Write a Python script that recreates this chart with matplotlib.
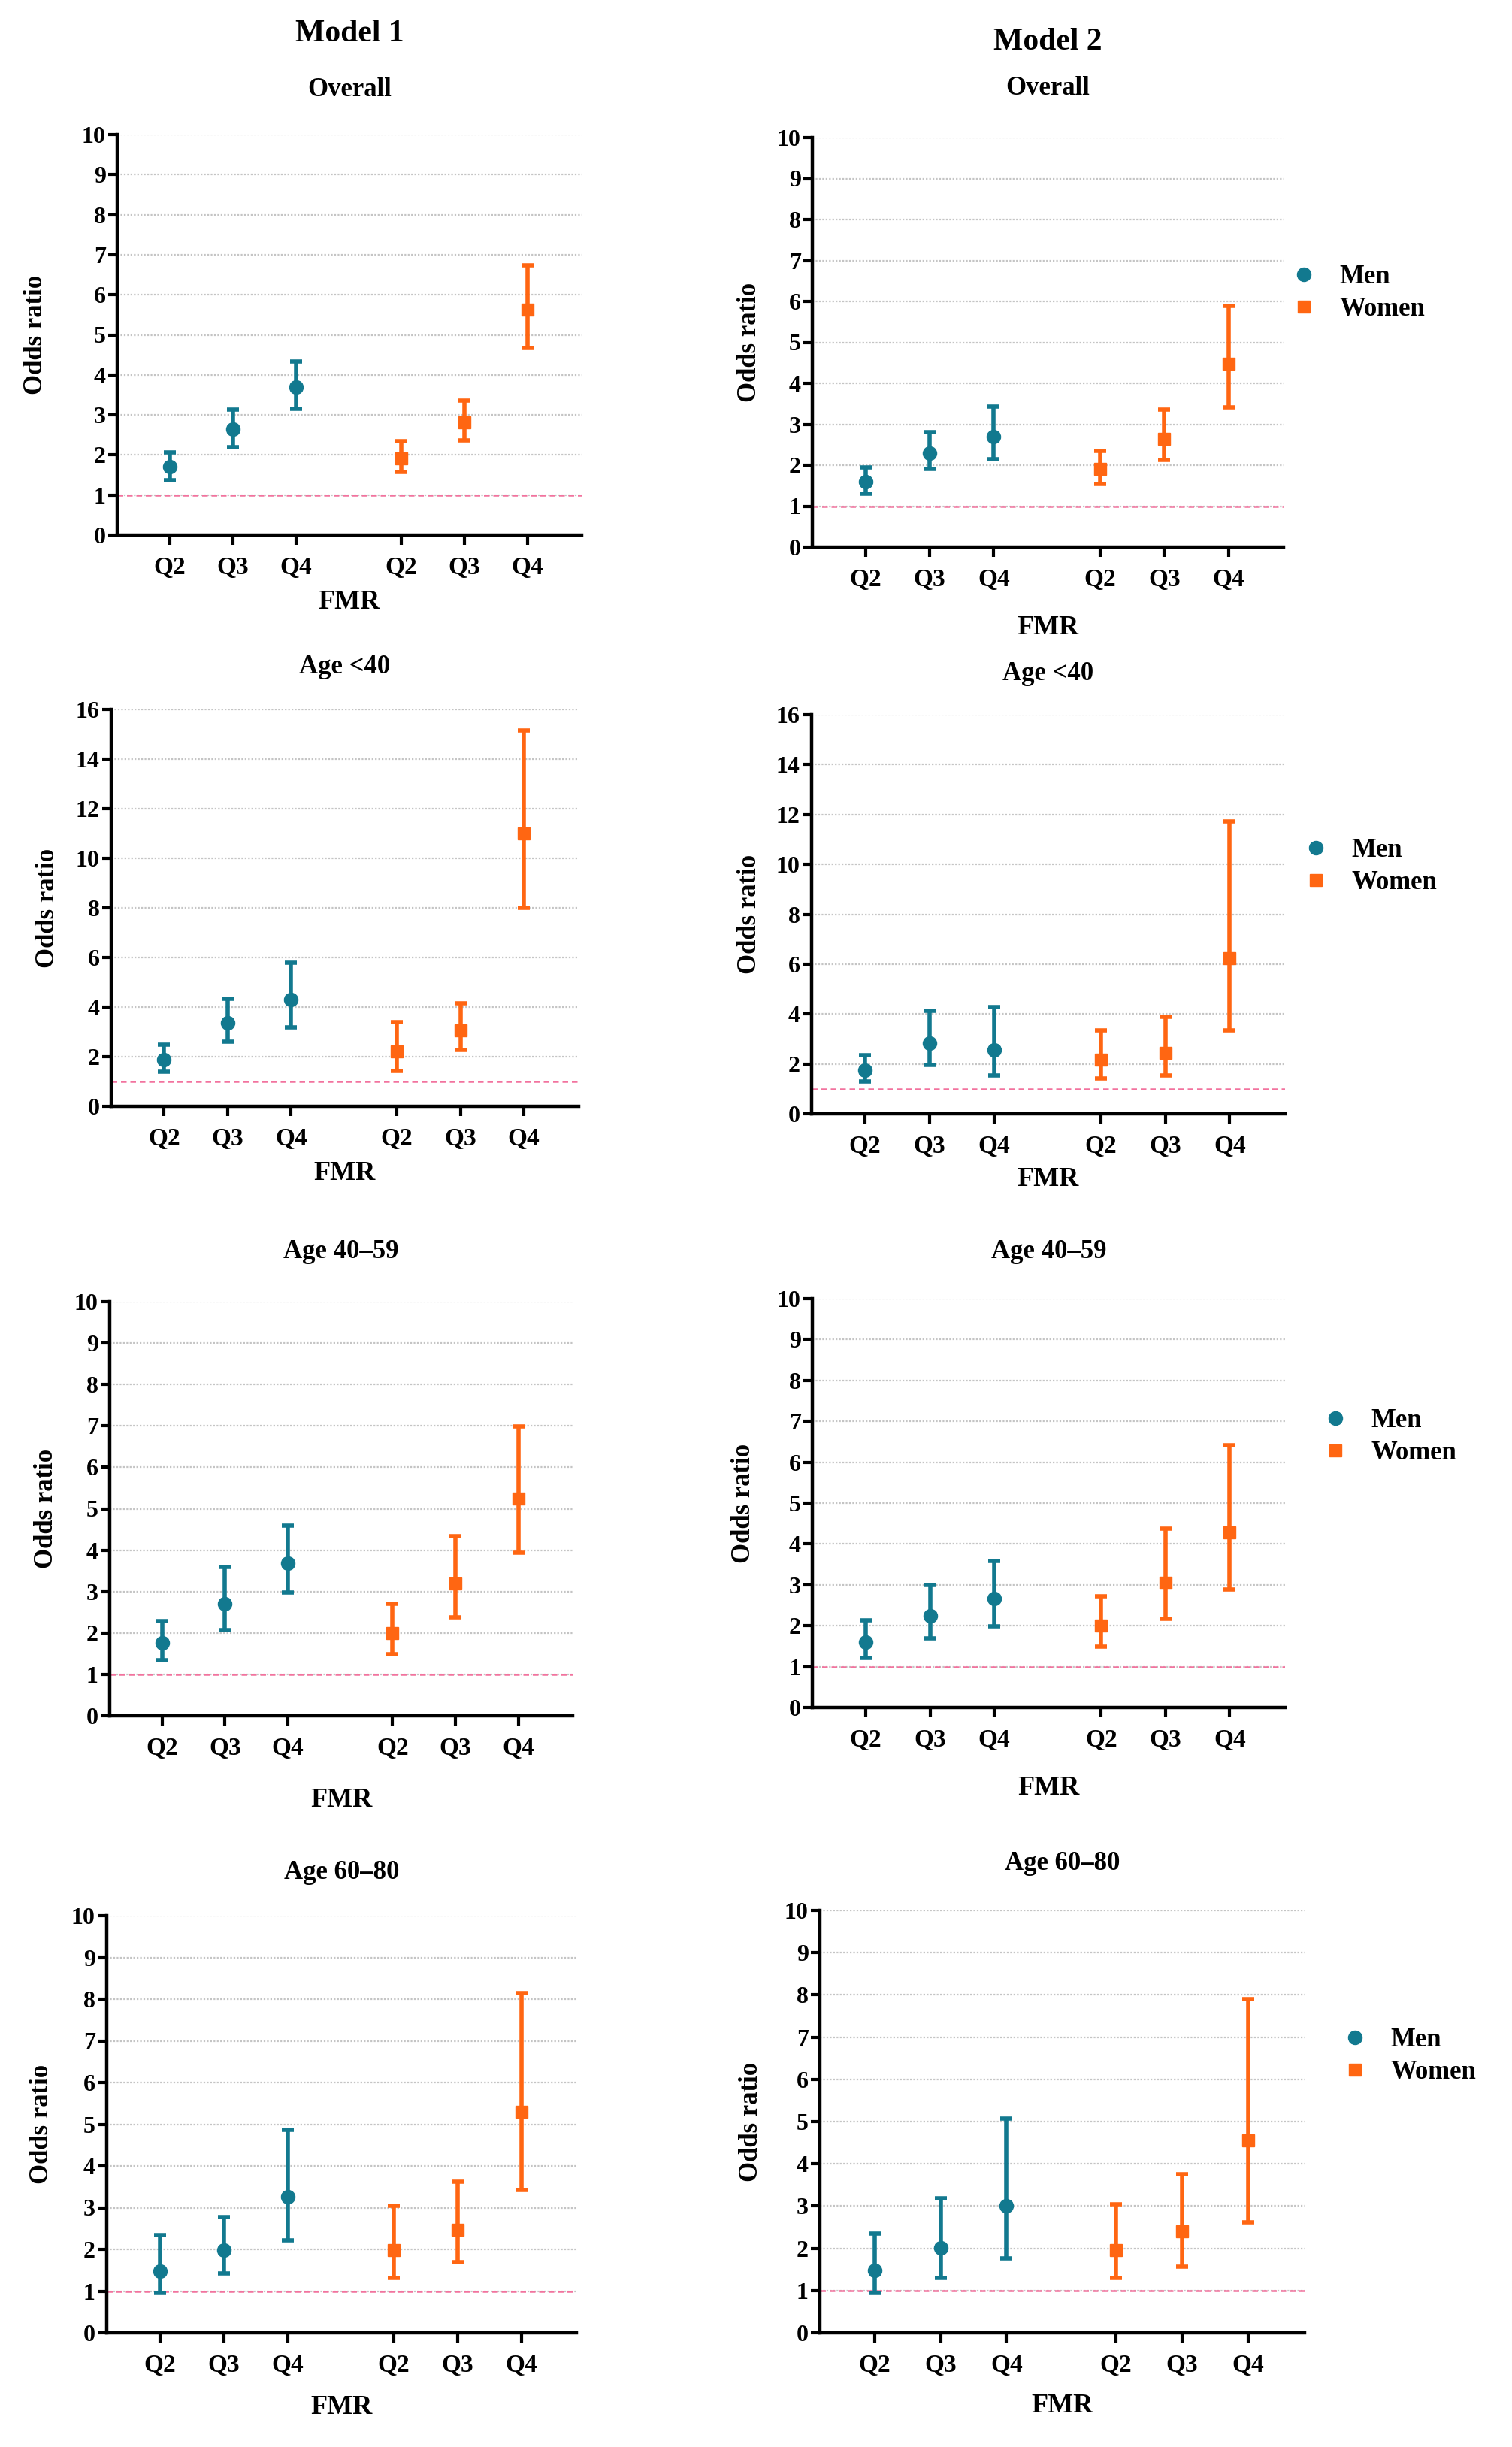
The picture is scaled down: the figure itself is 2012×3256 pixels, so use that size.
import matplotlib
matplotlib.use('Agg')
import matplotlib.pyplot as plt
from matplotlib.lines import Line2D
import numpy as np

# Panel titles and x categories
subgroups = ['Overall', 'Age <40', 'Age 40\u201359', 'Age 60\u201380']
quartiles = ['Q2', 'Q3', 'Q4']
y_max = [10, 16, 10, 10]
y_step = [1, 2, 1, 1]

# Model 1: odds ratio, lower and upper 95% CI, one row per subgroup
m1_men_or = [[1.70, 2.65, 3.70], [1.87, 3.35, 4.30], [1.76, 2.71, 3.69], [1.47, 1.98, 3.27]]
m1_men_lo = [[1.37, 2.20, 3.15], [1.40, 2.60, 3.18], [1.35, 2.07, 2.97], [0.95, 1.43, 2.21]]
m1_men_hi = [[2.06, 3.14, 4.34], [2.48, 4.34, 5.78], [2.28, 3.60, 4.59], [2.35, 2.77, 4.86]]
m1_women_or = [[1.92, 2.82, 5.62], [2.20, 3.07, 11.0], [2.00, 3.20, 5.24], [1.98, 2.47, 5.29]]
m1_women_lo = [[1.57, 2.37, 4.67], [1.43, 2.28, 8.00], [1.48, 2.37, 3.93], [1.31, 1.69, 3.42]]
m1_women_hi = [[2.35, 3.35, 6.74], [3.40, 4.15, 15.15], [2.70, 4.33, 6.98], [3.04, 3.62, 8.14]]

# Model 2
m2_men_or = [[1.60, 2.30, 2.70], [1.75, 2.83, 2.57], [1.60, 2.25, 2.67], [1.48, 2.01, 3.00]]
m2_men_lo = [[1.30, 1.90, 2.15], [1.29, 1.97, 1.55], [1.22, 1.70, 1.99], [0.94, 1.30, 1.77]]
m2_men_hi = [[1.95, 2.80, 3.44], [2.35, 4.12, 4.29], [2.13, 3.00, 3.59], [2.34, 3.18, 5.07]]
m2_women_or = [[1.91, 2.65, 4.47], [2.18, 2.45, 6.25], [2.00, 3.06, 4.28], [1.96, 2.41, 4.55]]
m2_women_lo = [[1.55, 2.12, 3.41], [1.43, 1.55, 3.33], [1.49, 2.17, 2.88], [1.30, 1.56, 2.62]]
m2_women_hi = [[2.34, 3.36, 5.89], [3.33, 3.90, 11.72], [2.72, 4.37, 6.42], [3.04, 3.75, 7.90]]

TEAL = '#12798f'
ORANGE = '#ff6612'
PINK = '#f2739e'

W, H = 2012, 3256


def fx(px):
    return px / W


def fy(py):
    return 1 - py / H


def draw_panel(fig, rect, title, title_y, fmr_y, ylab_x, ymax, ystep,
               men, women, legend_at=None):
    left, right, top, bottom = rect
    ax = fig.add_axes([fx(left), fy(bottom), fx(right - left), (bottom - top) / H])

    men_x = np.array([1.0, 2.0, 3.0])
    women_x = men_x + 3.66

    ax.set_xlim(0.17, 7.52)
    ax.set_ylim(0, ymax)
    yt = np.arange(0, ymax + 0.01, ystep)
    ax.set_yticks(yt)
    ax.set_yticklabels([f'{int(v)}' for v in yt])
    for v in yt[1:]:
        ax.axhline(v, color='#c4c4c4', lw=1.6, ls=(0, (1, 1)), zorder=1)
    ax.axhline(1, color=PINK, lw=1.8, ls=(0, (3, 2)), zorder=2)

    for xs, (orv, lo, hi), col, mk in [(men_x, men, TEAL, 'o'),
                                       (women_x, women, ORANGE, 's')]:
        orv = np.array(orv)
        err = [orv - np.array(lo), np.array(hi) - orv]
        ax.errorbar(xs, orv, yerr=err, fmt=mk, color=col, ecolor=col,
                    elinewidth=4, capsize=6, capthick=4, ms=13 if mk == 'o' else 12,
                    zorder=3)

    ax.set_xticks(np.concatenate([men_x, women_x]))
    ax.set_xticklabels(quartiles + quartiles)

    for s in ['top', 'right']:
        ax.spines[s].set_visible(False)
    for s in ['left', 'bottom']:
        ax.spines[s].set_linewidth(3.2)
    ax.tick_params(axis='y', length=9, width=3, pad=2, labelsize=23)
    ax.tick_params(axis='x', length=9, width=3, pad=11, labelsize=24)
    for lab in ax.get_xticklabels() + ax.get_yticklabels():
        lab.set_fontweight('bold')

    cx = fx((left + right) / 2)
    fig.text(cx, fy(title_y), title, ha='center', va='center',
             fontsize=25, fontweight='bold')
    fig.text(cx, fy(fmr_y), 'FMR', ha='center', va='center',
             fontsize=26, fontweight='bold')
    fig.text(fx(ylab_x), fy((top + bottom) / 2), 'Odds ratio', rotation=90,
             ha='center', va='center', fontsize=25, fontweight='bold')

    if legend_at is not None:
        handles = [Line2D([], [], ls='none', marker='o', color=TEAL, ms=13),
                   Line2D([], [], ls='none', marker='s', color=ORANGE, ms=12)]
        ax.legend(handles, ['Men', 'Women'], loc='center left',
                  bbox_to_anchor=(fx(legend_at[0]), fy(legend_at[1])),
                  bbox_transform=fig.transFigure, frameon=False,
                  borderpad=0, borderaxespad=0, handlelength=1.0,
                  handletextpad=0.85, labelspacing=0.3,
                  prop={'size': 25, 'weight': 'bold'})
    return ax


def main():
    plt.rcParams['font.family'] = ['Liberation Serif', 'DejaVu Serif']
    fig = plt.figure(figsize=(W / 100, H / 100), dpi=100)

    m1_rects = [(156, 774, 179, 712), (148, 770, 944, 1472),
                (146, 762, 1732, 2283), (142, 767, 2549, 3104)]
    m2_rects = [(1081, 1708, 183, 728), (1080, 1710, 951, 1482),
                (1081, 1710, 1728, 2272), (1091, 1736, 2542, 3104)]
    m1_title_y = [120, 888, 1666, 2491]
    m2_title_y = [117, 897, 1666, 2480]
    m1_fmr_y = [801, 1562, 2396, 3203]
    m2_fmr_y = [835, 1569, 2380, 3201]
    m1_ylab_x = [48, 64, 61, 56]
    m2_ylab_x = [997, 997, 990, 999]
    legend_pos = [(1718, 390), (1734, 1153), (1760, 1912), (1786, 2736)]

    for i, name in enumerate(subgroups):
        draw_panel(fig, m1_rects[i], name, m1_title_y[i], m1_fmr_y[i], m1_ylab_x[i],
                   y_max[i], y_step[i],
                   (m1_men_or[i], m1_men_lo[i], m1_men_hi[i]),
                   (m1_women_or[i], m1_women_lo[i], m1_women_hi[i]))
        draw_panel(fig, m2_rects[i], name, m2_title_y[i], m2_fmr_y[i], m2_ylab_x[i],
                   y_max[i], y_step[i],
                   (m2_men_or[i], m2_men_lo[i], m2_men_hi[i]),
                   (m2_women_or[i], m2_women_lo[i], m2_women_hi[i]),
                   legend_at=legend_pos[i])

    fig.text(fx(465), fy(45), 'Model 1', ha='center', va='center',
             fontsize=30, fontweight='bold')
    fig.text(fx(1394), fy(56), 'Model 2', ha='center', va='center',
             fontsize=30, fontweight='bold')

    fig.savefig('out.png', dpi=100, facecolor='white')


if __name__ == '__main__':
    main()
